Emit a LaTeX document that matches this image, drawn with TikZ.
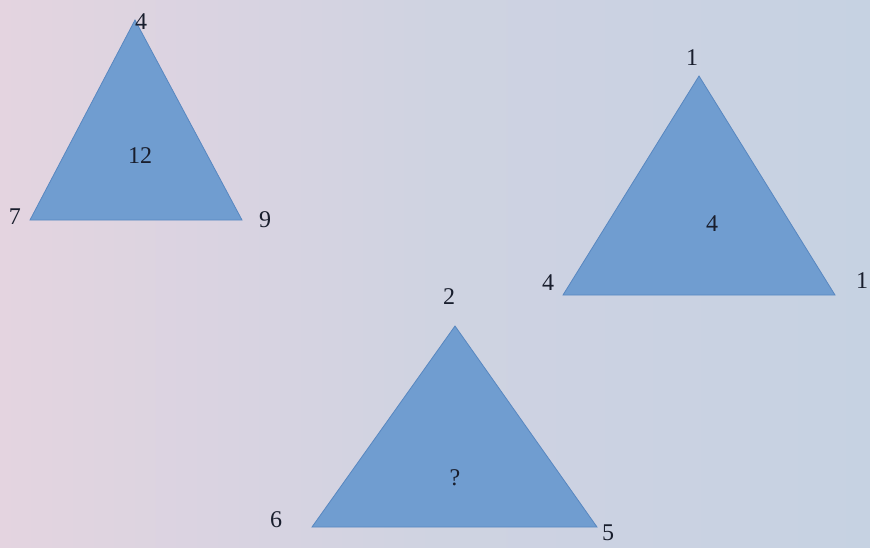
\documentclass[tikz,border=0pt]{standalone}
\usepackage{fontspec}
\setmainfont{Liberation Serif}
\definecolor{trifill}{RGB}{112,157,208}
\definecolor{triedge}{RGB}{88,135,192}
\definecolor{bgleft}{RGB}{228,212,224}
\definecolor{bgright}{RGB}{198,210,226}
\definecolor{txt}{RGB}{25,30,45}
\tikzset{
  tri/.style={fill=trifill, draw=triedge, line width=0.8pt, line join=miter},
  lbl/.style={text=txt, font=\fontsize{24}{26}\selectfont, inner sep=0pt},
}
\begin{document}
\begin{tikzpicture}[x=1pt,y=-1pt]
\clip (0,0) rectangle (870,547);
\useasboundingbox (0,0) rectangle (870,547);
\shade[left color=bgleft, right color=bgright, middle color=bgright!70!bgleft] (0,0) rectangle (870,547);
% triangle 1
\draw[tri] (135,20) -- (242,220) -- (30,220) -- cycle;
\node[lbl] (t1c) at (140,156) {12};
\node[lbl] (t1a) at (141,22) {4};
\node[lbl] (t1l) at (15,217) {7};
\node[lbl] (t1r) at (265,220) {9};
% triangle 2
\draw[tri] (699,76) -- (835,295) -- (563,295) -- cycle;
\node[lbl] (t2c) at (712,224) {4};
\node[lbl] (t2a) at (692,58) {1};
\node[lbl] (t2l) at (548,283) {4};
\node[lbl] (t2r) at (862,281) {1};
% triangle 3
\draw[tri] (455,326) -- (597,527) -- (312,527) -- cycle;
\node[lbl] (t3c) at (455,478) {?};
\node[lbl] (t3a) at (449,297) {2};
\node[lbl] (t3l) at (276,520) {6};
\node[lbl] (t3r) at (608,533) {5};
\end{tikzpicture}
\end{document}
